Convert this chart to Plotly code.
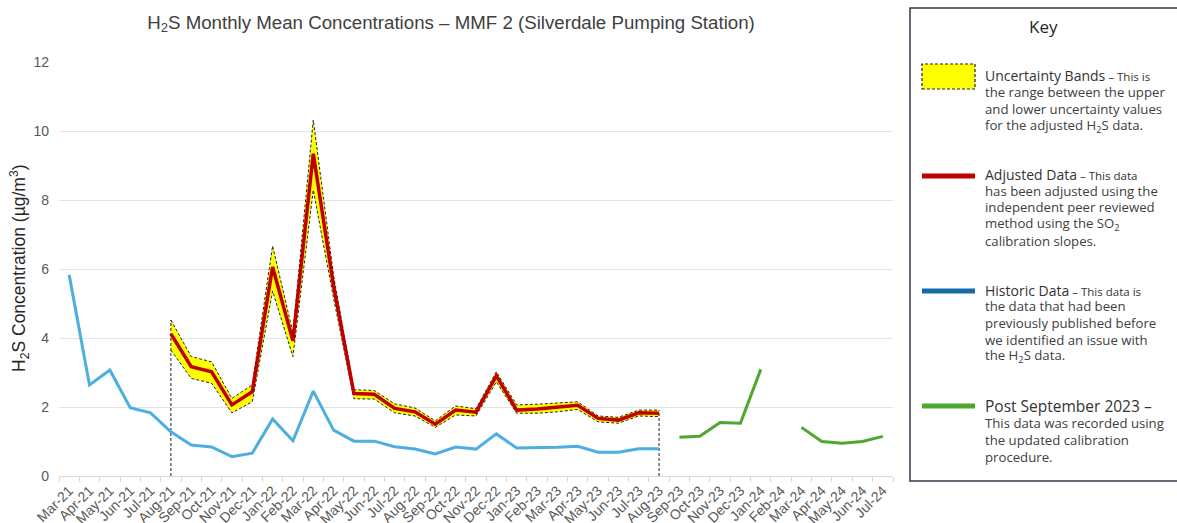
import plotly.graph_objects as go

months = ["Mar-21", "Apr-21", "May-21", "Jun-21", "Jul-21", "Aug-21", "Sep-21", "Oct-21",
          "Nov-21", "Dec-21", "Jan-22", "Feb-22", "Mar-22", "Apr-22", "May-22", "Jun-22",
          "Jul-22", "Aug-22", "Sep-22", "Oct-22", "Nov-22", "Dec-22", "Jan-23", "Feb-23",
          "Mar-23", "Apr-23", "May-23", "Jun-23", "Jul-23", "Aug-23", "Sep-23", "Oct-23",
          "Nov-23", "Dec-23", "Jan-24", "Feb-24", "Mar-24", "Apr-24", "May-24", "Jun-24",
          "Jul-24"]

# Mar-21 .. Aug-23
historic = [5.83, 2.64, 3.07, 1.98, 1.83, 1.28, 0.90, 0.84, 0.56, 0.66, 1.65, 1.02, 2.46,
            1.33, 1.01, 1.01, 0.85, 0.78, 0.64, 0.84, 0.78, 1.22, 0.81, 0.81, 0.83, 0.86,
            0.69, 0.69, 0.79, 0.79]
# Aug-21 .. Aug-23
adjusted = [4.12, 3.17, 3.02, 2.06, 2.44, 6.06, 3.92, 9.34, 5.50, 2.39, 2.37, 1.96, 1.86,
            1.50, 1.91, 1.85, 2.90, 1.91, 1.94, 2.00, 2.05, 1.67, 1.62, 1.83, 1.82]
upper = [4.52, 3.46, 3.31, 2.25, 2.64, 6.67, 4.15, 10.32, 5.80, 2.50, 2.48, 2.09, 1.97,
         1.60, 2.03, 1.95, 3.02, 2.06, 2.08, 2.11, 2.15, 1.74, 1.70, 1.91, 1.91]
lower = [3.65, 2.83, 2.69, 1.83, 2.15, 5.36, 3.46, 8.29, 5.15, 2.24, 2.23, 1.83, 1.74,
         1.41, 1.77, 1.74, 2.73, 1.82, 1.82, 1.86, 1.93, 1.57, 1.53, 1.74, 1.72]
# Sep-23 .. Jul-24 (no Feb-24 value)
post = [1.12, 1.15, 1.55, 1.53, 3.09, None, 1.41, 1.00, 0.95, 1.00, 1.15]

x_hist = months[:30]
x_adj = months[5:30]
x_post = months[30:]

W, H = 1177, 523
L, R, T, B = 59, 893, 62, 476


def px(x):
    return (x - L) / (R - L)


def py(y):
    return (B - y) / (B - T)


DASH = dict(color="#222222", width=1, dash="3px,2px")

fig = go.Figure()
fig.add_trace(go.Scatter(x=x_adj, y=lower, mode="lines", line=DASH))
fig.add_trace(go.Scatter(x=x_adj, y=upper, mode="lines", fill="tonexty",
                         fillcolor="#ffff00", line=DASH))
for xi, yi in [(x_adj[0], upper[0]), (x_adj[-1], upper[-1])]:
    fig.add_trace(go.Scatter(x=[xi, xi], y=[0, yi], mode="lines", line=DASH))
fig.add_trace(go.Scatter(x=x_hist, y=historic, mode="lines",
                         line=dict(color="#4eaee0", width=3)))
fig.add_trace(go.Scatter(x=x_adj, y=adjusted, mode="lines",
                         line=dict(color="#c00000", width=3.5)))
fig.add_trace(go.Scatter(x=x_post, y=post, mode="lines", connectgaps=False,
                         line=dict(color="#4ea72e", width=3)))

# key box (right side runs off the page)
shapes = [dict(type="path", xref="paper", yref="paper",
               path=f"M {px(1300)} {py(481)} L {px(910)} {py(481)} L {px(910)} {py(8)} "
                    f"L {px(1300)} {py(8)}",
               line=dict(color="#2b3a47", width=1.5), layer="above")]
shapes.append(dict(type="rect", xref="paper", yref="paper", x0=px(922), x1=px(975),
                   y0=py(89), y1=py(64), fillcolor="#ffff00",
                   line=dict(color="#222222", width=1.2, dash="3px,2px")))
for yk, col in [(176, "#c00000"), (291, "#156aa8"), (406, "#4ea72e")]:
    shapes.append(dict(type="line", xref="paper", yref="paper", x0=px(922), x1=px(975),
                       y0=py(yk), y1=py(yk), line=dict(color=col, width=5)))

KF = "Open Sans"
ann = []


def head(y, big, small="", size=14):
    extra = f"<span style='font-size:11.5px'> – {small}</span>" if small else ""
    ann.append(dict(xref="paper", yref="paper", x=px(983), y=py(y), xanchor="left",
                    yanchor="middle", showarrow=False, text=big + extra,
                    font=dict(family=KF, size=size, color="#333333")))


def body(y, text):
    ann.append(dict(xref="paper", yref="paper", x=px(983), y=py(y), xanchor="left",
                    yanchor="middle", showarrow=False, text=text,
                    font=dict(family=KF, size=13.2, color="#404040")))


ann.append(dict(xref="paper", yref="paper", x=px(1043), y=py(26), xanchor="center",
                yanchor="middle", showarrow=False, text="Key",
                font=dict(family=KF, size=17, color="#262626")))
head(75, "Uncertainty Bands", "This is")
body(92, "the range between the upper")
body(109, "and lower uncertainty values")
body(126, "for the adjusted H<sub>2</sub>S data.")
head(174, "Adjusted Data", "This data")
body(191, "has been adjusted using the")
body(207, "independent peer reviewed")
body(224, "method using the SO<sub>2</sub>")
body(241, "calibration slopes.")
head(290, "Historic Data", "This data is")
body(306, "the data that had been")
body(323, "previously published before")
body(340, "we identified an issue with")
body(356, "the H<sub>2</sub>S data.")
head(406, "Post September 2023 –", size=15.5)
body(423, "This data was recorded using")
body(440, "the updated calibration")
body(457, "procedure.")

# axis title
ann.append(dict(xref="paper", yref="paper", x=px(19), y=py(268), xanchor="center",
                yanchor="middle", showarrow=False, textangle=-90,
                text="H<sub>2</sub>S Concentration (µg/m<sup>3</sup>)",
                font=dict(family="Liberation Sans", size=17.5, color="#262626")))

fig.update_layout(
    width=W, height=H, showlegend=False,
    paper_bgcolor="white", plot_bgcolor="white",
    margin=dict(l=L, r=W - R, t=T, b=H - B, autoexpand=False),
    font=dict(family="Liberation Sans", color="#595959"),
    title=dict(text="H<sub>2</sub>S Monthly Mean Concentrations – MMF 2 (Silverdale Pumping Station)",
               x=px(451), xref="paper", xanchor="center", y=1 - 22 / H,
               yanchor="middle",
               font=dict(family="Liberation Sans", size=18.7, color="#404040")),
    xaxis=dict(type="category", categoryorder="array", categoryarray=months,
               range=[-0.5, len(months) - 0.5], tickangle=-45, tickson="boundaries",
               ticks="outside", ticklen=5, tickcolor="#d9d9d9", showgrid=False,
               showline=True, linecolor="#d9d9d9", linewidth=1, automargin=False,
               tickfont=dict(size=14, color="#595959")),
    yaxis=dict(range=[0, 12], dtick=2, showgrid=True, gridcolor="#e3e3e3", gridwidth=1,
               zeroline=False, showline=False, automargin=False, ticklabelstandoff=9,
               tickfont=dict(size=14, color="#595959")),
    shapes=shapes, annotations=ann,
)

# drop the default page margin so the figure fills the window exactly
fig.write_html("out.html", config={"displayModeBar": False},
               post_script="document.body.style.margin='0';"
                           "document.body.style.overflow='hidden';")
